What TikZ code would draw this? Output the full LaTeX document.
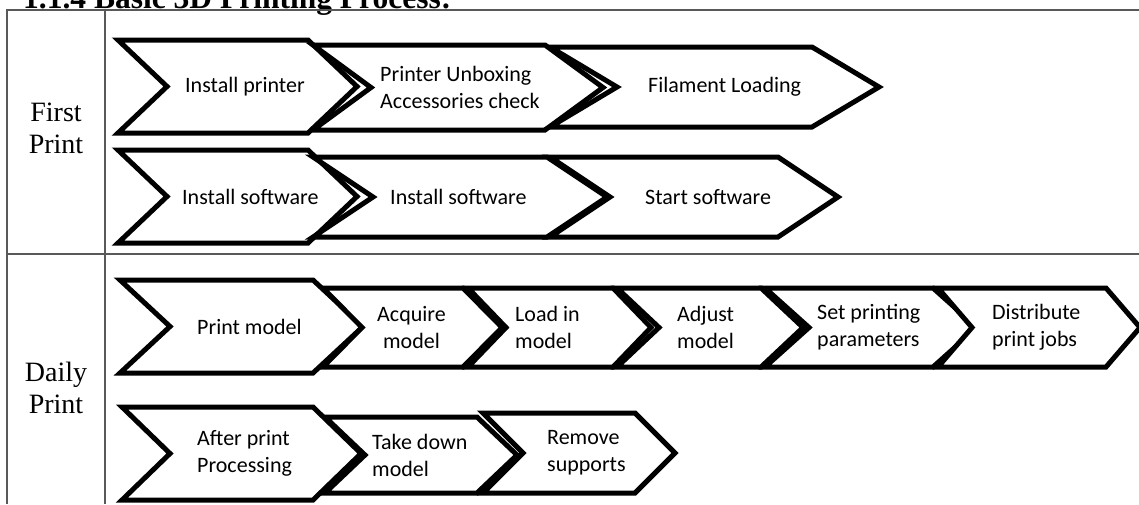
\documentclass[tikz,border=0pt]{standalone}
\usepackage{fontspec}
\setmainfont{Liberation Serif}
\newfontfamily\calib{Carlito}
\usepackage{tikz}
\tikzstyle{Chevron}=[draw=black,fill=white,line width=5pt,line join=miter]
\tikzstyle{StepText}=[anchor=west,inner sep=0pt,align=left,
font=\calib\fontsize{22}{27}\selectfont]
\tikzstyle{RowLabel}=[anchor=north,inner sep=0pt,align=center,
font=\fontsize{28}{32}\selectfont]
\tikzstyle{Title}=[anchor=base west,inner sep=0pt,
font=\bfseries\fontsize{31.5}{36}\selectfont]
\tikzstyle{Grid}=[draw=black!65,line width=1.2pt]
\newcommand{\Chev}[9][]{%
  \draw[Chevron](#3,#5)--(#4,#5)--({#4+#7},{(#5+#6)/2})--(#4,#6)
    --(#3,#6)--({#3+#7},{(#5+#6)/2})--cycle;
  \node[StepText,#1](#2)at(#8,{(#5+#6)/2}){#9};}

\begin{document}
\begin{tikzpicture}[x=1pt,y=-1pt]
        \useasboundingbox(0,0)rectangle(1139,504);
        \clip(0,0)rectangle(1139,504);
        \node[Title](title)at(23,8){1.1.4 Basic 3D Printing Process:};
        \draw[Grid](7,504)--(7,10)--(1139,10);
        \draw[Grid](105,10)--(105,504);
        \draw[Grid](7,254)--(1139,254);
        \node[RowLabel](first)at(56,103){First\\Print};
        \node[RowLabel](daily)at(56,362){Daily\\Print};
        \Chev{1}{118}{308}{40}{133}{49}{185}{Install printer}
        \Chev{2}{313}{545}{45}{130}{58}{380}{Printer Unboxing\\Accessories check}
        \Chev{3}{550}{812}{47}{127}{67}{648}{Filament Loading}
        \Chev{4}{118}{308}{150}{243}{49}{182}{Install software}
        \Chev{5}{313}{547}{157}{237}{60}{390}{Install software}
        \Chev{6}{550}{778}{157}{237}{60}{645}{Start software}
        \Chev{7}{120}{313}{280}{373}{50}{197}{Print model}
        \Chev[align=center]{8}{323}{463}{288}{367}{39}{377}{Acquire\\model}
        \Chev{9}{468}{613}{288}{367}{38}{515}{Load in\\model}
        \Chev{10}{617}{761}{288}{367}{42}{677}{Adjust\\model}
        \Chev{11}{765}{933}{288}{367}{44}{817}{Set printing\\parameters}
        \Chev{12}{938}{1106}{288}{367}{34}{992}{Distribute\\print jobs}
        \Chev{13}{122}{313}{407}{500}{48}{197}{After print\\Processing}
        \Chev{14}{325}{477}{417}{493}{40}{372}{Take down\\model}
        \Chev{15}{483}{635}{413}{493}{40}{547}{Remove\\supports}
    \end{tikzpicture}
\end{document}
